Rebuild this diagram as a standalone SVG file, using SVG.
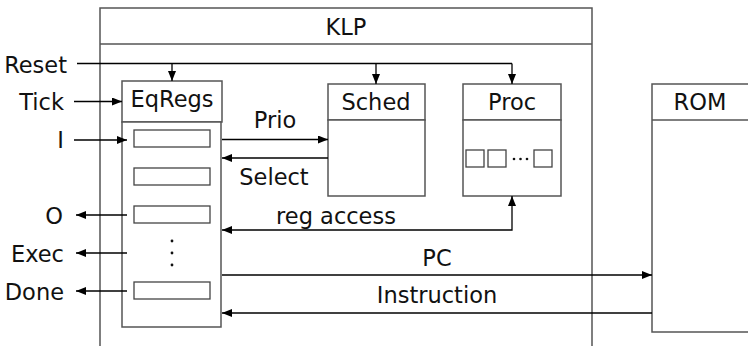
<svg xmlns="http://www.w3.org/2000/svg" width="748" height="346" viewBox="0 0 748 346">
<defs>
<marker id="ah" viewBox="0 0 10 8" refX="10" refY="4" markerWidth="10" markerHeight="8" markerUnits="userSpaceOnUse" orient="auto-start-reverse">
<path d="M0,0 L10,4 L0,8 z" fill="#000"/>
</marker>
<style>
text{font-family:"DejaVu Sans","Liberation Sans",sans-serif;font-size:22.5px;fill:#111}
.box{fill:#fff;stroke:#555;stroke-width:1.5}
.reg{fill:#fff;stroke:#444;stroke-width:1.3}
.ln{fill:none;stroke:#000;stroke-width:1.3}
.c{text-anchor:middle}
.e{text-anchor:end}
</style>
</defs>
<rect width="748" height="346" fill="#fff"/>
<g id="KLP">
<path class="box" d="M100,346 V8 H592 V346"/>
<line x1="100" y1="44" x2="592" y2="44" stroke="#555" stroke-width="1.5"/>
<text class="c" x="346" y="35">KLP</text>
</g>
<g id="ROM">
<rect class="box" x="652" y="84" width="110" height="248"/>
<line x1="652" y1="120" x2="748" y2="120" stroke="#555" stroke-width="1.5"/>
<text class="c" x="700" y="110">ROM</text>
</g>
<g id="EqRegs">
<rect class="box" x="122" y="81" width="100" height="41"/>
<rect class="box" x="122" y="122" width="99" height="205"/>
<text class="c" x="172" y="107">EqRegs</text>
<rect class="reg" x="134" y="130" width="76" height="17"/>
<rect class="reg" x="134" y="168" width="76" height="17"/>
<rect class="reg" x="134" y="206" width="76" height="17"/>
<rect class="reg" x="134" y="282" width="76" height="17"/>
<circle cx="172" cy="241" r="1.4" fill="#111"/>
<circle cx="172" cy="253" r="1.4" fill="#111"/>
<circle cx="172" cy="265" r="1.4" fill="#111"/>
</g>
<g id="Sched">
<rect class="box" x="328" y="84" width="97" height="36"/>
<rect class="box" x="328" y="120" width="97" height="76"/>
<text class="c" x="376" y="110">Sched</text>
</g>
<g id="Proc">
<rect class="box" x="463" y="84" width="98" height="36"/>
<rect class="box" x="463" y="120" width="98" height="76"/>
<text class="c" x="512" y="110">Proc</text>
<rect class="reg" x="466" y="150" width="18" height="17"/>
<rect class="reg" x="488" y="150" width="18" height="17"/>
<rect class="reg" x="534" y="150" width="18" height="17"/>
<circle cx="514" cy="159" r="1.3" fill="#111"/>
<circle cx="520.5" cy="159" r="1.3" fill="#111"/>
<circle cx="527" cy="159" r="1.3" fill="#111"/>
</g>
<g id="labels">
<text class="e" x="67" y="73">Reset</text>
<text class="e" x="64" y="110">Tick</text>
<text class="e" x="64" y="148">I</text>
<text class="e" x="63" y="224">O</text>
<text class="e" x="64" y="262">Exec</text>
<text class="e" x="64" y="300">Done</text>
<text class="c" x="275" y="128">Prio</text>
<text class="c" x="274" y="185">Select</text>
<text class="c" x="336" y="224">reg access</text>
<text class="c" x="437" y="266">PC</text>
<text class="c" x="437" y="303">Instruction</text>
</g>
<g id="connectors">
<path class="ln" d="M77,63.5 H512"/>
<path class="ln" d="M172,63.5 V81" marker-end="url(#ah)"/>
<path class="ln" d="M376,63.5 V84" marker-end="url(#ah)"/>
<path class="ln" d="M512,63.5 V84" marker-end="url(#ah)"/>
<path class="ln" d="M74,101.5 H122" marker-end="url(#ah)"/>
<path class="ln" d="M74,140 H127" marker-end="url(#ah)"/>
<path class="ln" d="M127,215 H76" marker-end="url(#ah)"/>
<path class="ln" d="M127,253 H76" marker-end="url(#ah)"/>
<path class="ln" d="M127,291 H76" marker-end="url(#ah)"/>
<path class="ln" d="M222,139.5 H328" marker-end="url(#ah)"/>
<path class="ln" d="M328,158 H222" marker-end="url(#ah)"/>
<path class="ln" d="M222,230 H512 V196" marker-start="url(#ah)" marker-end="url(#ah)"/>
<path class="ln" d="M222,275 H652" marker-end="url(#ah)"/>
<path class="ln" d="M652,313 H222" marker-end="url(#ah)"/>
</g>
</svg>
